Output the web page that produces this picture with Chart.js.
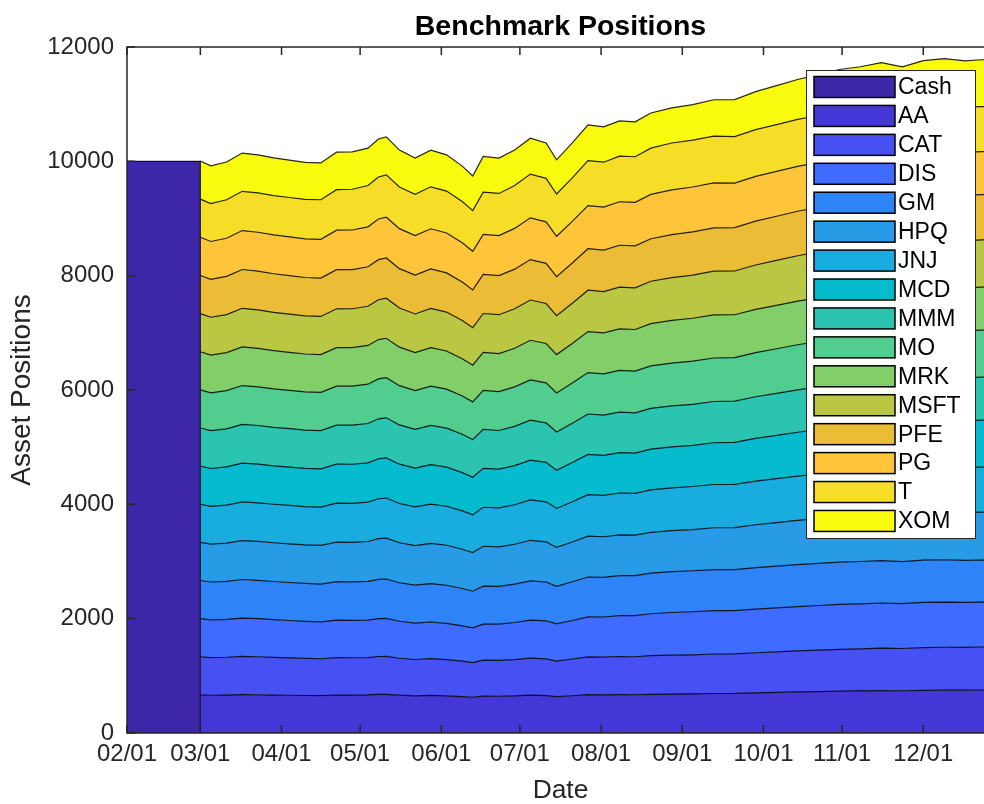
<!DOCTYPE html>
<html>
<head>
<meta charset="utf-8">
<script src="https://cdn.jsdelivr.net/npm/chart.js@4.4.0/dist/chart.umd.min.js"></script>
<style>
  html, body { margin: 0; padding: 0; background: #fff; overflow: hidden; }
  #wrap { width: 1000px; height: 804px; }
</style>
</head>
<body>
<div id="wrap"><canvas id="chart" width="1000" height="804"></canvas></div>
<script>
// days counted from 02/01
var days = [28, 32, 38, 44, 50, 56, 62, 68, 74, 80, 86, 92, 96, 99, 104, 110, 116, 122, 128, 132,
            136, 142, 148, 154, 160, 164, 170, 176, 182, 188, 194, 200, 208,
            216, 224, 232, 240, 248, 256, 264, 272, 280, 288, 296, 304, 312, 320, 326, 331];
var cashDays = [0, 28, 28];
var Cash = [10000, 10000, 0];

var AA   = [667, 660, 663, 672, 669, 664, 660, 656, 654, 665, 663, 666, 675, 677, 661, 650, 658, 651, 637, 625,
            646, 643, 650, 662, 655, 635, 652, 670, 667, 672, 669, 677, 681,
            684, 691, 692, 702, 710, 718, 725, 732, 736, 742, 739, 747, 750, 749, 752, 752];
var CAT  = [667, 660, 662, 669, 665, 659, 654, 649, 645, 655, 653, 654, 663, 664, 647, 636, 642, 634, 619, 607,
            628, 626, 635, 648, 642, 624, 642, 662, 660, 666, 665, 675, 680,
            684, 691, 692, 702, 710, 718, 725, 732, 736, 742, 739, 747, 750, 749, 752, 752];
var DIS  = [667, 660, 662, 669, 665, 659, 654, 649, 645, 655, 653, 654, 663, 664, 647, 636, 642, 634, 619, 607,
            631, 634, 648, 666, 666, 650, 674, 700, 702, 715, 719, 734, 747,
            753, 757, 756, 764, 770, 776, 780, 785, 787, 790, 784, 790, 791, 787, 787, 787];
var GM   = [667, 661, 665, 675, 672, 668, 665, 662, 661, 673, 673, 677, 687, 689, 673, 664, 672, 666, 653, 641,
            664, 661, 670, 684, 678, 658, 677, 697, 695, 701, 700, 710, 715,
            717, 720, 718, 725, 729, 734, 737, 740, 741, 743, 736, 740, 740, 735, 735, 734];
var HPQ  = [667, 662, 668, 681, 680, 678, 677, 676, 677, 691, 693, 699, 711, 714, 700, 692, 703, 699, 687, 676,
            698, 693, 699, 711, 702, 679, 696, 714, 709, 713, 708, 715, 717,
            721, 731, 736, 750, 761, 773, 784, 795, 803, 813, 812, 825, 832, 834, 839, 840];
var JNJ  = [667, 662, 667, 678, 676, 673, 671, 669, 669, 682, 683, 688, 699, 702, 687, 678, 688, 683, 670, 659,
            682, 681, 691, 706, 701, 682, 703, 725, 723, 731, 731, 742, 749,
            753, 757, 756, 764, 770, 776, 780, 785, 787, 790, 784, 790, 791, 787, 787, 787];
var MCD  = [667, 662, 667, 678, 676, 673, 671, 669, 669, 682, 683, 688, 699, 702, 687, 678, 688, 683, 670, 659,
            681, 677, 685, 697, 690, 669, 687, 706, 702, 707, 704, 713, 716,
            720, 730, 733, 746, 756, 766, 776, 785, 792, 801, 799, 810, 816, 817, 821, 822];
var MMM  = [667, 662, 667, 678, 676, 673, 671, 669, 669, 682, 683, 688, 699, 702, 687, 678, 688, 683, 670, 659,
            681, 677, 685, 697, 690, 669, 687, 706, 702, 707, 704, 713, 716,
            718, 722, 721, 729, 735, 740, 745, 749, 751, 754, 749, 754, 755, 752, 752, 752];
var MO   = [667, 662, 667, 678, 676, 673, 671, 669, 669, 682, 683, 688, 699, 702, 687, 678, 688, 683, 670, 659,
            682, 681, 691, 706, 701, 682, 703, 725, 723, 731, 731, 742, 749,
            754, 761, 762, 772, 781, 790, 796, 803, 807, 813, 809, 818, 821, 819, 821, 822];
var MRK  = [667, 661, 665, 675, 672, 668, 665, 662, 661, 673, 673, 677, 687, 689, 673, 664, 672, 666, 653, 641,
            665, 665, 677, 693, 689, 671, 693, 716, 716, 726, 727, 740, 749,
            751, 754, 750, 756, 759, 763, 765, 767, 766, 767, 759, 762, 760, 754, 752, 752];
var MSFT = [667, 661, 666, 676, 675, 671, 669, 667, 668, 680, 681, 686, 697, 700, 685, 676, 686, 681, 668, 657,
            680, 679, 690, 704, 699, 681, 702, 724, 722, 730, 730, 741, 748,
            756, 764, 766, 777, 786, 795, 802, 809, 814, 820, 816, 825, 829, 827, 829, 830];
var PFE  = [667, 663, 668, 679, 678, 675, 673, 671, 671, 684, 685, 690, 701, 704, 689, 680, 690, 685, 672, 661,
            684, 683, 693, 708, 703, 684, 705, 727, 725, 733, 733, 744, 751,
            755, 759, 758, 766, 772, 778, 782, 787, 789, 792, 786, 792, 793, 789, 789, 789];
var PG   = [667, 662, 668, 681, 680, 678, 677, 676, 677, 691, 693, 699, 711, 714, 700, 692, 703, 699, 687, 676,
            701, 701, 713, 729, 725, 705, 728, 752, 752, 761, 762, 775, 784,
            785, 785, 779, 783, 784, 785, 785, 784, 781, 780, 769, 769, 765, 756, 753, 752];
var T    = [667, 664, 672, 686, 688, 688, 689, 690, 693, 710, 713, 722, 736, 740, 727, 721, 734, 732, 722, 711,
            737, 737, 749, 765, 761, 740, 763, 788, 787, 797, 797, 810, 819,
            820, 820, 814, 818, 819, 821, 820, 820, 817, 816, 804, 805, 801, 792, 788, 787];
var XOM  = [667, 660, 662, 669, 665, 659, 654, 649, 645, 655, 653, 654, 663, 664, 647, 636, 642, 634, 619, 607,
            625, 618, 622, 629, 619, 598, 610, 624, 617, 617, 611, 615, 613,
            620, 635, 646, 665, 682, 699, 716, 733, 747, 763, 769, 788, 802, 810, 820, 822];

var names = ['AA', 'CAT', 'DIS', 'GM', 'HPQ', 'JNJ', 'MCD', 'MMM', 'MO', 'MRK', 'MSFT', 'PFE', 'PG', 'T', 'XOM'];
var series = [AA, CAT, DIS, GM, HPQ, JNJ, MCD, MMM, MO, MRK, MSFT, PFE, PG, T, XOM];

var tickDays = [0, 28, 59, 89, 120, 150, 181, 212, 243, 273, 304];
var tickLabels = ['02/01', '03/01', '04/01', '05/01', '06/01', '07/01', '08/01', '09/01', '10/01', '11/01', '12/01'];
var yTicks = [0, 2000, 4000, 6000, 8000, 10000, 12000];

var cashColor = '#3e26a8';
var colors = ['#4537d5', '#4750f3', '#3f6bfe', '#2e84f6', '#279be6', '#19acde', '#06bbcd',
              '#2ac4b0', '#50cd8f', '#82ce68', '#bac743', '#ebbc35', '#fec53b', '#f6de28', '#f9fb0e'];

var font = "'Liberation Sans', Arial, Helvetica, sans-serif";

var datasets = [{
    label: 'Cash',
    data: cashDays.map(function (d, i) { return { x: d, y: Cash[i] }; }),
    backgroundColor: cashColor,
    borderColor: 'rgba(0,0,0,0.85)',
    borderWidth: 1.2,
    fill: 'origin',
    stack: 'cash',
    pointRadius: 0
}];
for (var s = 0; s < series.length; s++) {
    datasets.push({
        label: names[s],
        data: days.map(function (d, i) { return { x: d, y: series[s][i] }; }),
        backgroundColor: colors[s],
        borderColor: 'rgba(0,0,0,0.85)',
        borderWidth: 1.2,
        fill: s === 0 ? 'origin' : '-1',
        stack: 'stocks',
        pointRadius: 0
    });
}

// axes box, inward ticks and the boxed legend
var frame = {
    id: 'frame',
    afterDraw: function (chart) {
        var ctx = chart.ctx, a = chart.chartArea;
        var xs = chart.scales.x, ys = chart.scales.y;
        ctx.save();
        ctx.strokeStyle = '#262626';
        ctx.lineWidth = 1.5;
        ctx.beginPath();
        tickDays.forEach(function (v) {
            var px = xs.getPixelForValue(v);
            ctx.moveTo(px, a.bottom); ctx.lineTo(px, a.bottom - 8);
            ctx.moveTo(px, a.top); ctx.lineTo(px, a.top + 8);
        });
        yTicks.forEach(function (v) {
            var py = ys.getPixelForValue(v);
            ctx.moveTo(a.left, py); ctx.lineTo(a.left + 8, py);
            ctx.moveTo(a.right, py); ctx.lineTo(a.right - 8, py);
        });
        ctx.stroke();
        ctx.strokeRect(a.left, a.top, a.right - a.left, a.bottom - a.top);

        var lx = a.right - 188, ly = a.top + 23, lw = 169, lh = 468;
        ctx.fillStyle = '#fff';
        ctx.fillRect(lx, ly, lw, lh);
        ctx.lineWidth = 1;
        ctx.strokeStyle = '#262626';
        ctx.strokeRect(lx + 0.5, ly + 0.5, lw, lh);
        ctx.font = '23px ' + font;
        ctx.textBaseline = 'middle';
        chart.data.datasets.forEach(function (ds, i) {
            var cy = ly + 17 + i * 28.93;
            ctx.fillStyle = ds.backgroundColor;
            ctx.fillRect(lx + 8, cy - 10.5, 81, 21);
            ctx.lineWidth = 1.5;
            ctx.strokeStyle = '#000';
            ctx.strokeRect(lx + 8, cy - 10.5, 81, 21);
            ctx.fillStyle = '#000';
            ctx.fillText(ds.label, lx + 92, cy + 1);
        });
        ctx.restore();
    }
};

new Chart(document.getElementById('chart'), {
    type: 'line',
    data: { datasets: datasets },
    options: {
        responsive: false,
        animation: false,
        layout: { padding: { right: 6 } },
        elements: { line: { tension: 0 } },
        plugins: {
            legend: { display: false },
            tooltip: { enabled: false },
            title: {
                display: true,
                fullSize: false,
                text: 'Benchmark Positions',
                color: '#000',
                font: { family: font, size: 28.5, weight: 'bold' },
                padding: { top: 10, bottom: 2.8 }
            }
        },
        scales: {
            x: {
                type: 'linear',
                min: 0,
                max: 331,
                grid: { display: false, drawTicks: false },
                border: { display: false },
                afterBuildTicks: function (sc) { sc.ticks = tickDays.map(function (v) { return { value: v }; }); },
                afterFit: function (sc) { sc.height = 71; },
                ticks: {
                    color: '#262626',
                    font: { family: font, size: 24 },
                    padding: 7,
                    maxRotation: 0,
                    autoSkip: false,
                    callback: function (v) { return tickLabels[tickDays.indexOf(v)]; }
                },
                title: {
                    display: true,
                    text: 'Date',
                    color: '#262626',
                    font: { family: font, size: 26.4 },
                    padding: { top: 0, bottom: -3 }
                }
            },
            y: {
                stacked: true,
                min: 0,
                max: 12000,
                grid: { display: false, drawTicks: false },
                border: { display: false },
                afterBuildTicks: function (sc) { sc.ticks = yTicks.map(function (v) { return { value: v }; }); },
                afterFit: function (sc) { sc.width = 127; },
                ticks: {
                    color: '#262626',
                    font: { family: font, size: 24 },
                    padding: 13,
                    callback: function (v) { return String(v); }
                },
                title: {
                    display: true,
                    text: 'Asset Positions',
                    color: '#262626',
                    font: { family: font, size: 28 },
                    padding: { top: 5, bottom: 0 }
                }
            }
        }
    },
    plugins: [frame]
});
</script>
</body>
</html>
